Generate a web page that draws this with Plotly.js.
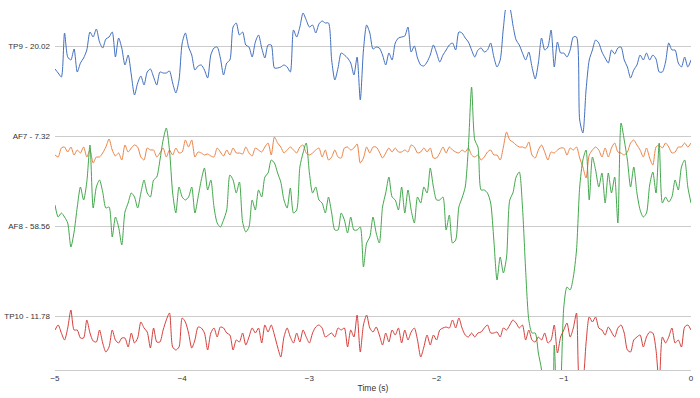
<!DOCTYPE html>
<html>
<head>
<meta charset="utf-8">
<script src="https://cdn.plot.ly/plotly-3.0.1.min.js"></script>
<style>html,body{margin:0;padding:0;background:#fff;}#chart{width:700px;height:398px;}</style>
</head>
<body>
<div id="chart"></div>
<script>
// Channel names, scale labels, vertical offsets of each trace baseline
const channels = ["TP9", "AF7", "AF8", "TP10"];
const scaleLabels = ["20.02", "7.32", "58.56", "11.78"];
const offsets = [270, 180, 90, 0];
const sampleStep = 0.025; // seconds between samples, window from -5 s to 0 s
const xTicks = [-5, -4, -3, -2, -1, 0];

// Signal deviations from each channel baseline (display units)
const tp9 = [
-23,-27,-31,13,-11,-14,-3,-26,-17,-12,-4,14,9,17,4,-2,7,9,14,-11,8,-2,-19,-9,-29,-49,-37,-30,-39,-26,-23,-31,-39,-26,-27,-27,-25,-37,-47,-34,
3,13,-1,-9,-24,-20,-19,-24,-32,-9,-2,-1,-12,-29,-17,-14,19,23,11,14,1,-1,-11,4,11,-2,-12,1,1,-22,-22,-21,-19,-21,-26,16,9,19,33,26,
19,21,13,22,25,23,23,-14,-34,-22,-7,-9,-12,-17,-29,-11,-54,-4,21,13,-3,-1,-2,-9,-19,-7,-14,3,8,9,10,19,-6,0,-12,-19,-20,-16,-9,1,
-7,-16,-9,-4,1,3,-4,14,13,8,4,-4,-11,-4,-2,-6,-4,3,-11,-21,-14,18,40,38,21,6,1,-7,-14,-6,-21,-33,-17,8,-4,-1,16,-21,4,-7,
-7,-11,-4,9,9,-74,-87,-44,-14,-4,6,3,-6,-12,-17,-4,-8,-2,-1,-14,-21,-32,-24,-19,-9,-14,-7,-14,-9,-13,-26,-26,-16,3,-4,-4,-17,-21,-11,-21,-14
];
const af7 = [
-19,-21,-12,-11,-16,-11,-19,-14,-17,-11,-21,-14,-27,-21,-21,-17,-11,-3,-14,-20,-17,-24,-9,-16,-12,-9,-11,-21,-24,-12,-14,-14,-21,-17,-12,-21,-14,-19,-12,-17,
-16,-4,-11,-4,-21,-16,-17,-19,-18,-20,-21,-12,-16,-20,-14,-19,-12,-17,-17,-18,-11,-17,-20,-12,-14,-16,-11,-7,-19,-1,-7,-11,-17,-14,-11,-14,-17,-11,-9,-17,
-19,-17,-14,-12,-21,-14,-24,-21,-14,-21,-22,-12,-11,-14,-12,-8,-27,-22,-11,-17,-11,-11,-16,-22,-17,-12,-16,-12,-16,-16,-14,-16,-9,-11,-17,-16,-12,-16,-12,-22,
-22,-17,-11,-17,-11,-14,-16,-17,-14,-16,-12,-19,-21,-19,-24,-21,-16,-14,-19,-19,-24,-11,4,-4,-6,-9,-11,-11,-12,-6,-19,-22,-14,-9,-16,-24,-16,-17,-14,-12,
-12,-19,-12,-14,-11,-22,-31,-42,-19,-14,-11,-14,-21,-12,-21,-12,-7,-16,-17,-19,-16,-7,-4,-9,-14,-21,-12,-22,-29,-11,-9,-12,-7,-11,-17,-16,-11,-11,-7,-11,-7
];
const af8 = [
21,9,13,9,3,-21,-6,19,39,26,44,81,18,39,46,34,18,19,-11,9,-1,-19,14,23,33,29,18,33,46,33,29,46,49,66,86,98,76,33,13,39,
29,26,29,39,13,29,46,58,36,46,19,3,-1,6,16,51,46,33,44,4,-6,-1,26,16,36,29,49,53,66,63,53,44,26,18,38,13,16,59,73,83,
53,33,39,26,23,13,29,13,-4,-4,13,6,-7,9,-4,-4,-1,-41,-17,-11,9,-7,-17,19,33,49,29,26,16,39,13,36,16,3,29,23,39,33,58,39,
26,26,29,-4,11,-17,-14,19,28,39,79,139,86,79,36,36,33,23,-14,-54,-31,-47,-31,26,33,49,54,19,-44,-94,-107,-107,-127,-144,-194,-194,-194,-119,-194,-164,
-81,-61,-64,-51,-24,39,66,76,26,69,56,39,53,23,53,33,49,3,103,86,66,39,59,33,16,9,13,41,54,33,83,23,29,24,29,46,36,59,66,39,23
];
const tp10 = [
-14,-9,-17,-24,-12,6,-14,-14,-22,-22,-4,-17,-25,-26,-14,-27,-36,-31,-14,-24,-27,-22,-22,-31,-17,-27,-22,-6,-12,-16,-32,-12,-26,-26,-14,-4,3,-31,-34,-31,
-2,-6,-17,-32,-24,-11,-12,-17,-34,-17,-12,-21,-11,-12,-17,-19,-34,-24,-26,-17,-29,-21,-12,-17,-12,-27,-9,-16,-9,-19,-31,-41,-21,-12,-21,-27,-17,-26,-14,-21,
-27,-17,-11,-9,-12,-21,-19,-17,-21,-12,-14,-12,-31,-14,-21,1,-36,-9,1,-12,-16,-11,-19,-29,-17,-26,-14,-19,-12,-27,-14,-24,-16,-12,-24,-41,-31,-19,-29,-19,
-24,-14,-12,-11,-12,-4,-12,-2,-12,-19,-21,-17,-21,-17,-16,-12,-9,-17,-17,-16,-21,-12,-14,-9,-4,-7,-12,-9,-24,-14,-24,-26,-21,-24,-17,-27,-24,-9,-37,-21,
-14,-7,-21,-12,3,-69,-64,-27,-1,-6,-1,-12,-14,-19,-11,-16,-21,-12,-9,-17,-34,-36,-24,-21,-19,-31,-21,-16,-17,-34,-69,-21,-27,-21,-12,-27,-24,-31,-11,-9,-14
];

const series = [tp9, af7, af8, tp10];
const colors = ["#4270c0", "#ec8447", "#43a84c", "#d63f3b"];

const traces = series.map((vals, k) => ({
  type: "scatter",
  mode: "lines",
  name: channels[k],
  x: vals.map((_, i) => -5 + i * sampleStep),
  y: vals.map(v => v + offsets[k]),
  line: {color: colors[k], width: 1, shape: "spline", smoothing: 0.7},
  hoverinfo: "skip"
}));

const layout = {
  width: 700,
  height: 398,
  margin: {l: 55, r: 9, t: 10, b: 28, pad: 0},
  paper_bgcolor: "#ffffff",
  plot_bgcolor: "#ffffff",
  showlegend: false,
  font: {family: "Liberation Sans, Arial, sans-serif", size: 8, color: "#444"},
  xaxis: {
    range: [-5, 0],
    tickvals: xTicks,
    ticktext: xTicks.map(v => v === 0 ? "0" : "\u2212" + Math.abs(v)),
    showgrid: false,
    zeroline: false,
    showline: true,
    linecolor: "#cccccc",
    linewidth: 1,
    ticks: "",
    tickfont: {size: 8, color: "#333"},
    title: {text: "Time (s)", font: {size: 8.5, color: "#333"}, standoff: 3},
    automargin: false
  },
  yaxis: {
    range: [-54, 306],
    tickvals: offsets,
    ticktext: channels.map((c, k) => c + " - " + scaleLabels[k]),
    showgrid: true,
    gridcolor: "#cccccc",
    gridwidth: 1,
    zeroline: false,
    showline: false,
    ticks: "",
    ticklabelstandoff: 4,
    tickfont: {size: 8, color: "#333"},
    automargin: false
  }
};

Plotly.newPlot("chart", traces, layout, {displayModeBar: false, staticPlot: true});
</script>
</body>
</html>
